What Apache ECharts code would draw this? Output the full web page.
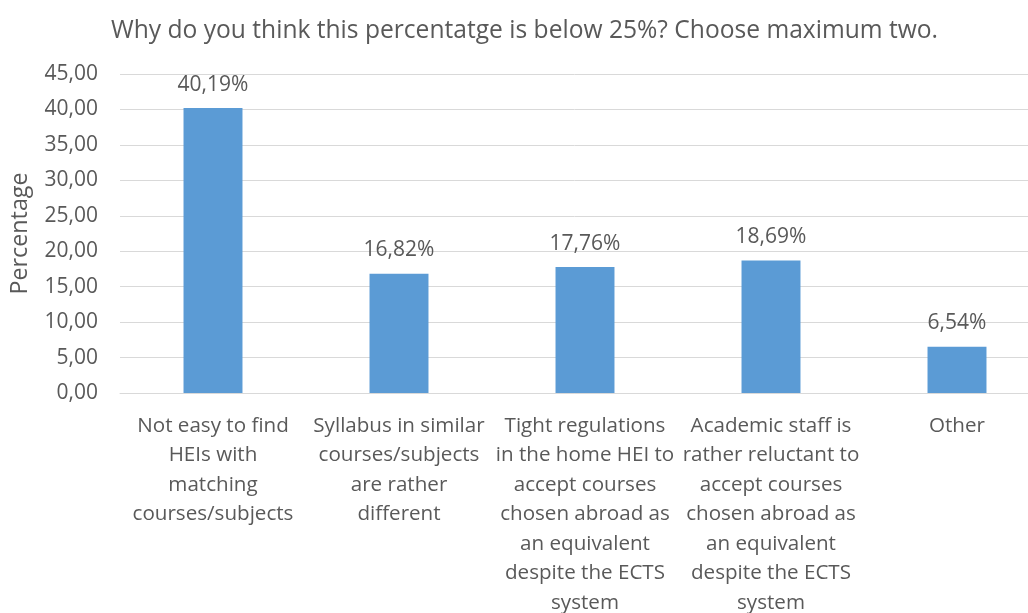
<!DOCTYPE html>
<html>
<head>
<meta charset="utf-8">
<script src="https://cdn.jsdelivr.net/npm/echarts@6/dist/echarts.min.js"></script>
<style>html,body{margin:0;padding:0;background:#fff}#c{width:1028px;height:613px}</style>
</head>
<body>
<div id="c"></div>
<script>
const titleText = 'Why do you think this percentatge is below 25%? Choose maximum two.';
const categories = [
  'Not easy to find\nHEIs with\nmatching\ncourses/subjects',
  'Syllabus in similar\ncourses/subjects\nare rather\ndifferent',
  'Tight regulations\nin the home HEI to\naccept courses\nchosen abroad as\nan equivalent\ndespite the ECTS\nsystem',
  'Academic staff is\nrather reluctant to\naccept courses\nchosen abroad as\nan equivalent\ndespite the ECTS\nsystem',
  'Other'
];
const values = [40.19, 16.82, 17.76, 18.69, 6.54];
const yAxisName = 'Percentage';
const yMin = 0, yMax = 45, yStep = 5;

const FONT = 'Open Sans';
const TXT = '#595959';
const chart = echarts.init(document.getElementById('c'), null, {renderer: 'canvas'});
chart.setOption({
  animation: false,
  textStyle: {fontFamily: FONT},
  title: {
    text: titleText, left: 106, top: 13,
    textStyle: {fontFamily: FONT, fontSize: 24.6, fontWeight: 'normal', color: TXT}
  },
  grid: {left: 120, top: 74, width: 930, height: 319, containLabel: false, outerBoundsMode: 'none'},
  xAxis: {
    type: 'category', data: categories,
    axisLine: {lineStyle: {color: '#D9D9D9', width: 1}},
    axisTick: {show: false},
    axisLabel: {interval: 0, color: TXT, fontFamily: FONT, fontSize: 20.6, lineHeight: 29.5, margin: 18, align: 'center'}
  },
  yAxis: {
    type: 'value', min: yMin, max: yMax, interval: yStep,
    name: yAxisName, nameLocation: 'middle', nameRotate: 90, nameGap: 88,
    nameTextStyle: {color: TXT, fontFamily: FONT, fontSize: 23.3},
    axisLine: {show: false}, axisTick: {show: false},
    axisLabel: {color: TXT, fontFamily: FONT, fontSize: 21, margin: 22,
      formatter: v => v.toFixed(2).replace('.', ',')},
    splitLine: {lineStyle: {color: '#D9D9D9', width: 1}}
  },
  series: [{
    type: 'bar', data: values, barWidth: '31.7%',
    itemStyle: {color: '#5B9BD5'},
    label: {show: true, position: 'top', distance: 13, color: TXT, fontFamily: FONT, fontSize: 21,
      formatter: p => p.value.toFixed(2).replace('.', ',') + '%'}
  }]
});
</script>
</body>
</html>
